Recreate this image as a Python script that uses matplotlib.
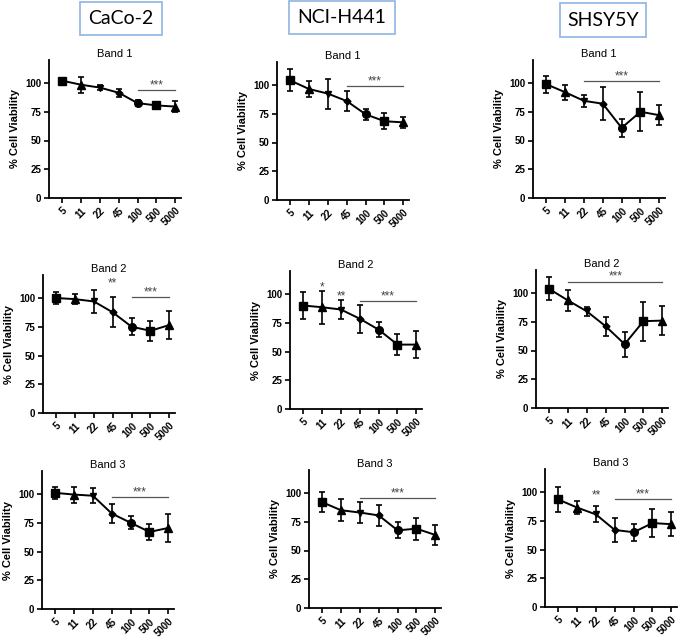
import matplotlib.pyplot as plt
from matplotlib.patches import Rectangle

plt.rcParams['font.family'] = ['Liberation Sans', 'DejaVu Sans']

doses = ['5', '11', '22', '45', '100', '500', '5000']
cell_lines = ['CaCo-2', 'NCI-H441', 'SHSY5Y']
bands = ['Band 1', 'Band 2', 'Band 3']
markers = ['s', '^', 'v', 'D', 'o', 's', '^']
marker_sizes = [6, 5.5, 4.5, 3.5, 5.5, 6, 5.5]

# CaCo-2
caco2_b1 = [102, 98.5, 96, 91.5, 82.5, 80.5, 79.5]
caco2_b1_err = [1.5, 7, 2, 3.5, 2.5, 2.5, 4.5]
caco2_b2 = [100, 99, 97, 87.5, 75, 71.5, 76.5]
caco2_b2_err = [5, 4.5, 10, 13, 7.5, 8.5, 12]
caco2_b3 = [101, 99.5, 98.5, 83, 75, 67, 70.5]
caco2_b3_err = [5, 7, 6.5, 8.5, 5.5, 7, 12]

# NCI-H441
nci_b1 = [104, 96.5, 92.5, 86, 74.5, 68.5, 67.5]
nci_b1_err = [9.5, 7, 13, 9, 4.5, 7, 5]
nci_b2 = [90, 88.5, 86.5, 78.5, 69, 56, 56]
nci_b2_err = [11.5, 14.5, 8, 12, 6.5, 9, 11.5]
nci_b3 = [92, 85, 83, 80.5, 67.5, 69, 63.5]
nci_b3_err = [8.5, 9.5, 9, 9.5, 7, 9.5, 8.5]

# SHSY5Y
shsy_b1 = [99, 92, 84.5, 82, 61, 75, 72]
shsy_b1_err = [7.5, 6.5, 5.5, 14.5, 8, 17, 8.5]
shsy_b2 = [103.5, 93.5, 84, 71, 55.5, 75.5, 76]
shsy_b2_err = [10, 9, 4, 8.5, 11, 17, 12.5]
shsy_b3 = [93.5, 86.5, 80.5, 67, 65, 73, 72]
shsy_b3_err = [10.5, 6, 7, 10.5, 7.5, 12, 10.5]

# significance bars (start dose index, end dose index, height) and single-point stars
sig_bars = {
    (0, 0): (4, 6, 94), (0, 1): (3, 6, 99), (0, 2): (2, 6, 102),
    (1, 0): (4, 6, 101), (1, 1): (3, 6, 94), (1, 2): (1, 6, 110),
    (2, 0): (3, 6, 97.5), (2, 1): (2, 6, 95.5), (2, 2): (3, 6, 94),
}
point_stars = {
    (1, 0): [(3, 114, '**')],
    (1, 1): [(1, 107, '*'), (2, 99, '**')],
    (2, 2): [(2, 98, '**')],
}

panels = [
    [(caco2_b1, caco2_b1_err), (nci_b1, nci_b1_err), (shsy_b1, shsy_b1_err)],
    [(caco2_b2, caco2_b2_err), (nci_b2, nci_b2_err), (shsy_b2, shsy_b2_err)],
    [(caco2_b3, caco2_b3_err), (nci_b3, nci_b3_err), (shsy_b3, shsy_b3_err)],
]

# pixel positions of y-axis and y=0 for each panel
W, H = 685, 640
axes_px = [
    [(49, 198), (277, 200), (533, 198)],
    [(43, 413), (290, 409), (536, 408)],
    [(42, 609), (309, 608), (545, 607)],
]

fig = plt.figure(figsize=(6.85, 6.4), dpi=100)

for r in range(3):
    for c in range(3):
        x0, y0 = axes_px[r][c]
        ax = fig.add_axes([x0 / W, 1 - y0 / H, 132 / W, 138 / H])
        means, errs = panels[r][c]
        xs = list(range(len(doses)))
        ax.errorbar(xs, means, yerr=errs, fmt='-', color='black', lw=1.4,
                    elinewidth=1.2, capsize=2.5, capthick=1.2, zorder=2)
        for i in xs:
            ax.plot(xs[i], means[i], marker=markers[i], ms=marker_sizes[i],
                    color='black', zorder=3)

        s, e, h = sig_bars[(r, c)]
        ax.plot([s, e], [h, h], color='#555555', lw=0.9)
        ax.text((s + e) / 2, h + 4, '***', ha='center', va='center',
                fontsize=8.5, color='#444444')
        for i, yy, lab in point_stars.get((r, c), []):
            ax.text(i, yy - 1, lab, ha='center', va='center', fontsize=8.5,
                    color='#444444')

        ax.set_xlim(-0.7, 6.3)
        ax.set_ylim(0, 120)
        ax.set_yticks([0, 25, 50, 75, 100])
        ax.set_xticks(xs)
        ax.set_xticklabels(doses, rotation=45, ha='right',
                           rotation_mode='anchor', fontsize=7, fontweight='bold')
        for lbl in ax.get_yticklabels():
            lbl.set_fontsize(7)
            lbl.set_fontweight('bold')
        ax.set_ylabel('% Cell Viability', fontsize=8, fontweight='bold', labelpad=4)
        ax.set_title(bands[r], fontsize=8, pad=2)
        ax.spines['top'].set_visible(False)
        ax.spines['right'].set_visible(False)
        ax.spines['left'].set_linewidth(1.3)
        ax.spines['bottom'].set_linewidth(1.3)
        ax.tick_params(width=1.2, length=3.5, pad=2)

# header boxes for each cell line
boxes = [(80, 2, 82, 33), (289, 1, 106, 33), (560, 3, 86, 34)]
for name, (bx, by, bw, bh) in zip(cell_lines, boxes):
    rect = Rectangle((bx / W, 1 - (by + bh) / H), bw / W, bh / H,
                     transform=fig.transFigure, fill=False,
                     edgecolor='#8db4e2', lw=1.2)
    fig.add_artist(rect)
    fig.text((bx + bw / 2) / W, 1 - (by + bh / 2) / H, name, ha='center',
             va='center', fontsize=14, family=['Lato', 'DejaVu Sans'])

fig.savefig('out.png', dpi=100)
